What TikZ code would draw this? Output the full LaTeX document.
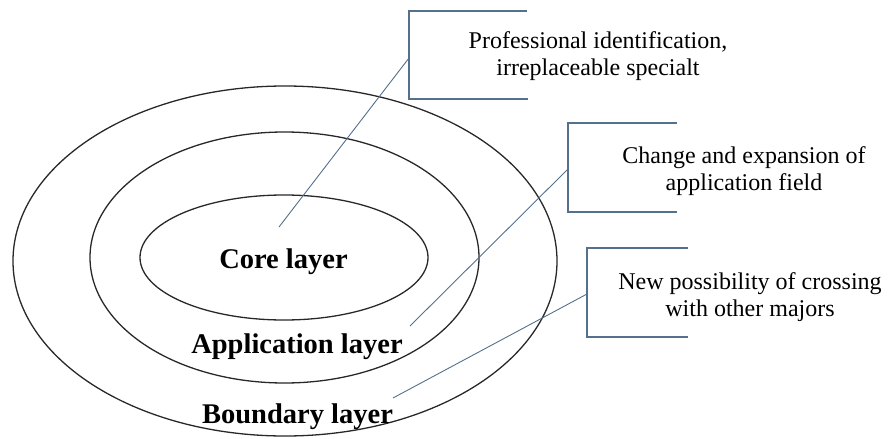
\documentclass[tikz,border=0pt]{standalone}
\usepackage{fontspec}
\setmainfont{Liberation Serif}
\usetikzlibrary{shapes.geometric}
\definecolor{leadercol}{RGB}{84,112,140}
\definecolor{ringcol}{RGB}{40,40,40}
\begin{document}
\begin{tikzpicture}[x=1pt,y=-1pt,
  layer/.style={draw=ringcol,line width=1.3pt,ellipse,inner sep=0pt},
  laylabel/.style={font=\fontsize{28.5}{30}\selectfont\bfseries,anchor=base,inner sep=0pt},
  note/.style={font=\fontsize{24}{27}\selectfont,align=center,anchor=base,inner sep=0pt},
  bracketline/.style={draw=leadercol,line width=1.3pt},
  leaderline/.style={draw=leadercol,line width=0.9pt}]
\useasboundingbox (0,0) rectangle (889,439);
% rings
\node[layer,minimum width=544pt,minimum height=350pt] (outer) at (285,261) {};
\node[layer,minimum width=389pt,minimum height=251pt] (middle) at (284.5,257.5) {};
\node[layer,minimum width=288pt,minimum height=125pt] (inner) at (284,257.5) {};
% ring labels
\node[laylabel] (core) at (283.5,268) {Core layer};
\node[laylabel] (appl) at (297,353) {Application layer};
\node[laylabel] (bound) at (297.5,423) {Boundary layer};
% callout 1
\draw[bracketline] (527,11) -| (409,99) -- (528,99);
\coordinate (b1) at (409,58);
\coordinate (e1) at (279,227);
\draw[leaderline] (b1) -- (e1);
\node[note] (t1) at (598,75) {Professional identification,\\irreplaceable specialt};
% callout 2
\draw[bracketline] (677,123) -| (568,212) -- (677,212);
\coordinate (b2) at (568,169);
\coordinate (e2) at (410,326);
\draw[leaderline] (b2) -- (e2);
\node[note] (t2) at (744,190) {Change and expansion of\\application field};
% callout 3
\draw[bracketline] (688,248) -| (587,337) -- (688,337);
\coordinate (b3) at (587,294);
\coordinate (e3) at (393,398);
\draw[leaderline] (b3) -- (e3);
\node[note] (t3) at (750,316) {New possibility of crossing\\with other majors};
\end{tikzpicture}
\end{document}
